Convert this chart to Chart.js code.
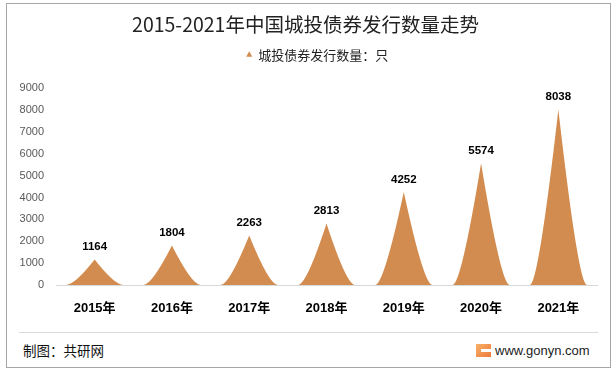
<!DOCTYPE html>
<html lang="zh">
<head>
    <meta charset="UTF-8">
    <title>2015-2021年中国城投债券发行数量走势</title>
    <style>
        body {
            margin: 0;
            padding: 0;
            background: white;
            width: 616px;
            height: 372px;
            overflow: hidden;
            font-family: "Noto Sans CJK SC", sans-serif;
        }
        #frame {
            position: absolute;
            left: 6px;
            top: 3px;
            width: 603px;
            height: 363px;
            border: 1px solid #a6a6a6;
        }
        #chartBox {
            position: absolute;
            left: 0;
            top: 0;
            width: 616px;
            height: 330px;
        }
        #footLine {
            position: absolute;
            left: 19px;
            top: 332px;
            width: 579px;
            height: 1px;
            background: #d9d9d9;
        }
        #source {
            position: absolute;
            left: 23px;
            top: 340px;
            font-size: 13.5px;
            line-height: 20px;
            color: #111;
        }
        #site {
            position: absolute;
            left: 476px;
            top: 340px;
            height: 20px;
            display: flex;
            align-items: center;
            font-family: "Liberation Sans", Arial, sans-serif;
            font-size: 13px;
            color: #222;
        }
        #site .logo {
            width: 15px;
            height: 13px;
            margin-right: 4px;
            position: relative;
            background: linear-gradient(135deg, #f7b267, #ee7a3a);
        }
        #site .logo::after {
            content: "";
            position: absolute;
            left: 5px;
            top: 5px;
            width: 10px;
            height: 3px;
            background: white;
        }
    </style>
    <script src="https://cdn.jsdelivr.net/npm/chart.js"></script>
</head>
<body>
    <div id="frame"></div>
    <div id="chartBox"><canvas id="bondChart"></canvas></div>
    <div id="footLine"></div>
    <div id="source">制图：共研网</div>
    <div id="site"><span class="logo"></span>www.gonyn.com</div>

    <script>
        // data
        const years = ['2015年', '2016年', '2017年', '2018年', '2019年', '2020年', '2021年'];
        const issuance = [1164, 1804, 2263, 2813, 4252, 5574, 8038];
        const seriesName = '城投债券发行数量：只';
        const yMax = 9000;
        const yStep = 1000;

        const barColor = '#D38C4F';

        // draw the bars as pointed "spike" shapes instead of rectangles
        const spikeBars = {
            id: 'spikeBars',
            beforeDatasetDraw(chart, args) {
                const ctx = chart.ctx;
                ctx.save();
                ctx.fillStyle = barColor;
                args.meta.data.forEach(bar => {
                    const { x, y, base, width } = bar.getProps(['x', 'y', 'base', 'width'], true);
                    const hw = width / 2;
                    const k = 0.7;
                    ctx.beginPath();
                    ctx.moveTo(x - hw, base);
                    ctx.quadraticCurveTo(x - hw * k, base, x, y);
                    ctx.quadraticCurveTo(x + hw * k, base, x + hw, base);
                    ctx.closePath();
                    ctx.fill();
                });
                ctx.restore();
                return false;
            },
            afterDatasetsDraw(chart) {
                const ctx = chart.ctx;
                const meta = chart.getDatasetMeta(0);
                ctx.save();
                ctx.font = 'bold 11.5px "Liberation Sans", Arial, sans-serif';
                ctx.fillStyle = '#000';
                ctx.textAlign = 'center';
                ctx.textBaseline = 'bottom';
                meta.data.forEach((bar, i) => {
                    ctx.fillText(issuance[i], bar.x, bar.y - 7);
                });
                ctx.restore();
            }
        };

        // nudge title and legend to the right, extra space below the legend
        function shiftBox(box, ctx, dx) {
            const draw = box.draw;
            box.draw = function () {
                ctx.save();
                ctx.translate(dx, 0);
                draw.apply(box, arguments);
                ctx.restore();
            };
        }
        const headerTweak = {
            id: 'headerTweak',
            beforeInit(chart) {
                const fit = chart.legend.fit;
                chart.legend.fit = function () {
                    fit.bind(chart.legend)();
                    this.height += 17;
                };
                shiftBox(chart.legend, chart.ctx, 19);
                shiftBox(chart.titleBlock, chart.ctx, 7);
            }
        };

        new Chart(document.getElementById('bondChart'), {
            type: 'bar',
            data: {
                labels: years,
                datasets: [{
                    label: seriesName,
                    data: issuance,
                    backgroundColor: barColor,
                    barPercentage: 0.74,
                    categoryPercentage: 1
                }]
            },
            options: {
                responsive: true,
                maintainAspectRatio: false,
                animation: false,
                layout: { padding: { left: 0, right: 19, top: 0, bottom: 0 } },
                scales: {
                    x: {
                        grid: { display: false },
                        border: { display: true, color: '#d9d9d9', width: 1 },
                        ticks: {
                            color: '#000',
                            padding: 8,
                            font: { size: 13, weight: 'bold', family: '"Liberation Sans", "Noto Sans CJK SC", sans-serif' }
                        },
                        afterFit(scale) { scale.height = 45; }
                    },
                    y: {
                        min: 0,
                        max: yMax,
                        grid: { display: false },
                        border: { display: false },
                        ticks: {
                            stepSize: yStep,
                            color: '#595959',
                            padding: 4,
                            font: { size: 11, family: '"Liberation Sans", Arial, sans-serif' },
                            callback: value => String(value)
                        },
                        afterFit(scale) { scale.width = 56; }
                    }
                },
                plugins: {
                    title: {
                        display: true,
                        text: '2015-2021年中国城投债券发行数量走势',
                        color: '#222',
                        padding: { top: 13, bottom: 2 },
                        font: { size: 19.5, weight: 'normal', family: '"Noto Sans CJK SC", sans-serif' }
                    },
                    legend: {
                        position: 'top',
                        labels: {
                            usePointStyle: true,
                            pointStyle: 'triangle',
                            boxWidth: 5,
                            boxHeight: 5,
                            color: '#222',
                            font: { size: 13, family: '"Noto Sans CJK SC", sans-serif' }
                        }
                    },
                    tooltip: { enabled: false }
                }
            },
            plugins: [spikeBars, headerTweak]
        });
    </script>
</body>
</html>
